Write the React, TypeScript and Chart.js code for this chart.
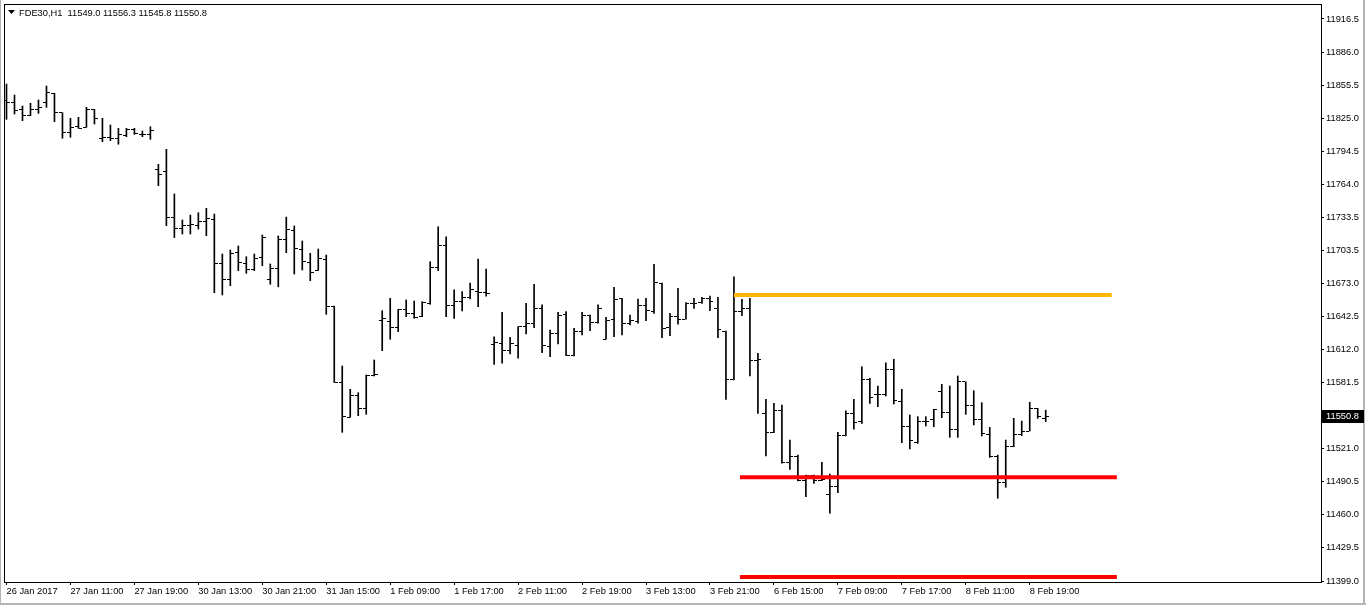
import React, { useEffect, useRef } from 'react';
import { Chart, registerables } from 'chart.js';

Chart.register(...registerables);

const symbolTitle = 'FDE30,H1';

const opens = [
  11841.9, 11839.8, 11833.3, 11828.1, 11833.6, 11839.8, 11848.1, 11830.2, 11811.8, 11817.3,
  11816.8, 11833.3, 11806.7, 11807.2, 11806.7, 11808.8, 11814.3, 11810.6, 11809.7, 11778.1,
  11776.5, 11733.3, 11723.8, 11725.9, 11726.8, 11729.6, 11732.1, 11690.9, 11676.8, 11701.7,
  11691.5, 11686.0, 11697.1, 11676.8, 11686.3, 11713.0, 11722.2, 11704.4, 11692.5, 11685.3,
  11695.5, 11652.2, 11582.0, 11549.8, 11569.4, 11558.0, 11587.8, 11639.3, 11638.4, 11632.6,
  11648.6, 11645.5, 11642.4, 11654.7, 11687.9, 11707.5, 11652.5, 11656.2, 11660.2, 11666.0,
  11664.5, 11616.9, 11617.9, 11611.7, 11616.3, 11633.8, 11635.7, 11649.5, 11614.8, 11627.1,
  11644.6, 11607.1, 11629.2, 11643.3, 11636.8, 11621.6, 11640.0, 11658.7, 11636.3, 11637.8,
  11652.5, 11647.0, 11673.3, 11632.3, 11643.0, 11640.0, 11654.7, 11655.7, 11659.3, 11650.1,
  11629.2, 11584.1, 11647.0, 11650.1, 11602.5, 11553.4, 11535.9, 11555.6, 11508.3, 11514.1,
  11491.4, 11495.7, 11492.0, 11479.1, 11485.9, 11532.8, 11552.8, 11545.7, 11584.7, 11570.3,
  11570.3, 11594.0, 11564.1, 11541.7, 11526.4, 11546.3, 11547.3, 11573.3, 11554.3, 11538.9,
  11582.5, 11560.2, 11547.9, 11533.5, 11514.1, 11489.9, 11522.7, 11534.1, 11537.1, 11558.0,
  11549.0,
];

const highs = [
  11856.6, 11846.5, 11836.4, 11838.9, 11841.9, 11854.8, 11848.1, 11830.2, 11825.1, 11826.0,
  11835.2, 11833.3, 11825.1, 11818.9, 11815.9, 11815.9, 11815.9, 11813.4, 11817.3, 11782.7,
  11796.5, 11755.4, 11731.4, 11736.0, 11738.1, 11742.2, 11736.9, 11700.1, 11703.8, 11707.5,
  11697.6, 11700.1, 11717.6, 11690.9, 11716.7, 11734.1, 11725.9, 11712.1, 11700.8, 11704.7,
  11699.2, 11652.2, 11597.0, 11575.5, 11572.4, 11588.7, 11602.5, 11647.9, 11659.3, 11649.2,
  11657.8, 11656.8, 11656.2, 11693.0, 11725.2, 11716.0, 11667.0, 11665.4, 11673.3, 11695.5,
  11686.3, 11623.9, 11646.4, 11623.4, 11633.2, 11654.7, 11672.2, 11653.2, 11630.1, 11646.4,
  11647.0, 11631.7, 11646.4, 11643.9, 11653.2, 11641.8, 11669.5, 11659.3, 11643.9, 11658.7,
  11659.3, 11690.6, 11673.3, 11645.5, 11668.5, 11655.3, 11659.3, 11660.2, 11661.4, 11660.2,
  11629.2, 11679.2, 11658.4, 11659.3, 11608.7, 11566.3, 11562.6, 11561.1, 11528.8, 11515.0,
  11496.6, 11496.6, 11508.3, 11497.5, 11535.9, 11555.8, 11566.3, 11596.3, 11585.7, 11578.6,
  11600.0, 11603.2, 11575.5, 11551.9, 11550.3, 11550.3, 11557.1, 11580.1, 11578.6, 11587.8,
  11582.5, 11574.2, 11563.2, 11540.5, 11515.0, 11528.8, 11548.8, 11546.3, 11563.6, 11558.0,
  11556.3,
];

const lows = [
  11824.1, 11829.0, 11822.9, 11827.4, 11829.6, 11835.2, 11821.9, 11806.7, 11807.6, 11815.9,
  11816.8, 11819.8, 11803.5, 11804.4, 11801.2, 11808.1, 11810.3, 11808.1, 11805.7, 11763.0,
  11726.2, 11715.3, 11718.5, 11718.5, 11723.1, 11717.0, 11664.5, 11662.4, 11670.9, 11684.8,
  11682.3, 11684.8, 11689.3, 11672.2, 11669.9, 11701.3, 11681.7, 11685.4, 11675.5, 11685.0,
  11644.6, 11581.8, 11535.9, 11549.8, 11551.2, 11552.5, 11587.8, 11611.1, 11621.6, 11628.6,
  11642.4, 11640.9, 11642.4, 11653.8, 11684.8, 11642.4, 11640.9, 11647.6, 11658.7, 11651.6,
  11661.2, 11598.5, 11599.5, 11608.0, 11604.1, 11626.5, 11632.3, 11609.2, 11605.6, 11617.2,
  11606.5, 11606.2, 11625.5, 11629.5, 11636.3, 11621.6, 11623.9, 11625.5, 11634.7, 11636.3,
  11638.7, 11645.5, 11623.0, 11624.9, 11635.4, 11640.0, 11650.1, 11654.7, 11647.9, 11623.0,
  11566.3, 11584.1, 11643.3, 11587.8, 11553.4, 11514.2, 11535.6, 11507.4, 11501.8, 11491.1,
  11476.6, 11488.9, 11491.4, 11461.4, 11480.3, 11532.5, 11538.7, 11544.2, 11562.6, 11559.5,
  11569.4, 11562.0, 11526.4, 11520.6, 11525.8, 11541.7, 11541.1, 11549.4, 11531.3, 11531.3,
  11552.5, 11542.7, 11532.5, 11512.9, 11475.2, 11485.3, 11522.7, 11532.8, 11537.1, 11548.8,
  11545.8,
];

const closes = [
  11839.8, 11832.7, 11828.1, 11833.3, 11835.2, 11849.0, 11830.2, 11811.8, 11816.8, 11815.9,
  11833.3, 11825.1, 11807.2, 11806.7, 11809.7, 11814.9, 11811.3, 11809.7, 11813.4, 11772.9,
  11733.3, 11723.8, 11725.9, 11727.5, 11729.6, 11733.0, 11691.5, 11676.8, 11700.8, 11692.5,
  11685.4, 11696.1, 11715.5, 11686.3, 11713.9, 11722.9, 11705.4, 11693.0, 11683.3, 11696.1,
  11652.2, 11582.0, 11550.3, 11569.4, 11558.0, 11587.8, 11588.7, 11640.9, 11632.6, 11648.6,
  11645.5, 11641.4, 11655.7, 11687.9, 11707.5, 11652.5, 11656.2, 11660.2, 11667.6, 11664.5,
  11663.9, 11618.8, 11611.7, 11617.9, 11633.2, 11636.3, 11650.1, 11615.4, 11627.1, 11643.3,
  11607.1, 11628.6, 11643.3, 11636.8, 11650.1, 11639.3, 11658.4, 11636.3, 11638.7, 11652.5,
  11647.9, 11674.1, 11631.7, 11642.4, 11640.0, 11654.7, 11654.7, 11659.3, 11656.2, 11630.8,
  11584.7, 11647.0, 11650.1, 11602.5, 11603.2, 11535.9, 11555.6, 11507.9, 11514.1, 11492.0,
  11496.0, 11492.0, 11492.9, 11485.9, 11532.8, 11552.8, 11545.1, 11584.7, 11568.2, 11570.3,
  11594.0, 11565.0, 11541.7, 11528.2, 11546.3, 11546.3, 11557.1, 11554.3, 11538.9, 11582.5,
  11560.2, 11547.9, 11535.0, 11514.1, 11489.9, 11522.7, 11533.5, 11537.1, 11558.0, 11550.3,
  11550.8,
];

const timeLabels = [
  '26 Jan 2017', '27 Jan 11:00', '27 Jan 19:00', '30 Jan 13:00', '30 Jan 21:00', '31 Jan 15:00',
  '1 Feb 09:00', '1 Feb 17:00', '2 Feb 11:00', '2 Feb 19:00', '3 Feb 13:00', '3 Feb 21:00',
  '6 Feb 15:00', '7 Feb 09:00', '7 Feb 17:00', '8 Feb 11:00', '8 Feb 19:00',
];
const timeLabelStep = 8;

const priceTicks = [
  11399.0, 11429.5, 11460.0, 11490.5, 11521.0, 11581.5, 11612.0, 11642.5, 11673.0,
  11703.5, 11733.5, 11764.0, 11794.5, 11825.0, 11855.5, 11886.0, 11916.5,
];

// horizontal levels: price, start bar, end bar
const levelPrices = [11662.4, 11494.5, 11402.7];
const levelStartBars = [91.0, 91.75, 91.75];
const levelEndBars = [138.25, 138.9, 138.9];
const levelColors = ['#ffb400', '#ff0000', '#ff0000'];

const W = 1366;
const H = 605;
const FONT = 'Liberation Sans';

function makeTickImage(side: 'open' | 'close') {
  const c = document.createElement('canvas');
  c.width = 7;
  c.height = 1;
  const g = c.getContext('2d')!;
  g.fillStyle = '#000';
  if (side === 'open') g.fillRect(0, 0, 3, 1);
  else g.fillRect(4, 0, 3, 1);
  return c;
}

export default function App() {
  const ref = useRef<HTMLCanvasElement | null>(null);

  useEffect(() => {
    document.body.style.margin = '0';
    const canvas = ref.current!;
    const openImg = makeTickImage('open');
    const closeImg = makeTickImage('close');
    const last = closes.length - 1;

    const decor = {
      id: 'decor',
      beforeDraw(chart: any) {
        const ctx = chart.ctx;
        ctx.save();
        ctx.fillStyle = '#ffffff';
        ctx.fillRect(0, 0, chart.width, chart.height);
        ctx.restore();
      },
      beforeDatasetsDraw(chart: any) {
        chart.ctx.imageSmoothingEnabled = false;
      },
      afterDraw(chart: any) {
        const ctx = chart.ctx;
        const a = chart.chartArea;
        ctx.save();
        // window edges
        ctx.fillStyle = '#b4b4b4';
        ctx.fillRect(0, 0, 1, chart.height);
        ctx.fillRect(chart.width - 3, 0, 2, chart.height);
        ctx.fillRect(0, chart.height - 2, chart.width, 2);
        // frame
        ctx.strokeStyle = '#000';
        ctx.lineWidth = 1;
        ctx.strokeRect(a.left - 0.5, a.top - 0.5, a.right - a.left + 1, a.bottom - a.top + 1);
        // header
        ctx.fillStyle = '#000';
        ctx.beginPath();
        ctx.moveTo(8, 10);
        ctx.lineTo(15, 10);
        ctx.lineTo(11.5, 14);
        ctx.closePath();
        ctx.fill();
        ctx.font = `9.3px "${FONT}"`;
        ctx.textBaseline = 'middle';
        ctx.textAlign = 'left';
        const header = `${symbolTitle}  ${opens[last].toFixed(1)} ${highs[last].toFixed(1)} ${lows[last].toFixed(1)} ${closes[last].toFixed(1)}`;
        ctx.fillText(header, 19, 13);
        // current price box
        const yScale = chart.scales.y;
        const py = Math.round(yScale.getPixelForValue(closes[last]));
        ctx.fillStyle = '#000';
        ctx.fillRect(a.right + 1, py - 6, 42, 13);
        ctx.fillStyle = '#fff';
        ctx.fillText(closes[last].toFixed(1), a.right + 5, py + 0.5);
        ctx.restore();
      },
    };

    const datasets: any[] = [
      ...levelPrices.map((p, k) => ({
        type: 'line',
        data: [
          { x: levelStartBars[k], y: p },
          { x: levelEndBars[k], y: p },
        ],
        borderColor: levelColors[k],
        borderWidth: 4,
        borderCapStyle: 'butt',
        pointRadius: 0,
        fill: false,
        order: 0,
      })),
      {
        type: 'bar',
        data: highs.map((h, i) => ({ x: i, y: [lows[i], h] })),
        backgroundColor: '#000',
        borderWidth: 0,
        barThickness: 1,
        grouped: false,
        order: 2,
      },
      {
        type: 'scatter',
        data: opens.map((v, i) => ({ x: i, y: v })),
        pointStyle: openImg,
        pointRadius: 3,
        order: 1,
      },
      {
        type: 'scatter',
        data: closes.map((v, i) => ({ x: i, y: v })),
        pointStyle: closeImg,
        pointRadius: 3,
        order: 1,
      },
    ];

    const chart = new Chart(canvas, {
      type: 'bar',
      data: { datasets },
      options: {
        animation: false,
        responsive: false,
        devicePixelRatio: 1,
        events: [],
        layout: { padding: { left: 4, top: 5, right: 0, bottom: 0 } },
        plugins: { legend: { display: false }, tooltip: { enabled: false } },
        scales: {
          x: {
            type: 'linear',
            position: 'bottom',
            min: -0.1875,
            max: 164.4375,
            offset: false,
            border: { display: false },
            grid: {
              offset: false,
              drawOnChartArea: false,
              drawTicks: true,
              tickLength: 3,
              color: '#000',
            },
            ticks: {
              autoSkip: false,
              maxRotation: 0,
              minRotation: 0,
              align: 'start',
              padding: 1,
              color: '#000',
              font: { family: FONT, size: 9.3 },
              callback: (v: any) => {
                const k = Math.round(Number(v) / timeLabelStep);
                return timeLabels[k] ?? '';
              },
            },
            afterBuildTicks: (scale: any) => {
              scale.ticks = timeLabels.map((_, k) => ({ value: k * timeLabelStep }));
            },
            afterFit: (scale: any) => {
              scale.height = 23;
              scale.paddingLeft = 0;
              scale.paddingRight = 0;
            },
          } as any,
          y: {
            type: 'linear',
            position: 'right',
            min: 11398.08,
            max: 11929.39,
            border: { display: false },
            grid: {
              drawOnChartArea: false,
              drawTicks: true,
              tickLength: 3,
              color: '#000',
            },
            ticks: {
              padding: 2,
              color: '#000',
              font: { family: FONT, size: 9.3 },
              callback: (v: any) => Number(v).toFixed(1),
            },
            afterBuildTicks: (scale: any) => {
              scale.ticks = priceTicks.map((p) => ({ value: p }));
            },
            afterFit: (scale: any) => {
              scale.width = 45;
              scale.paddingTop = 0;
              scale.paddingBottom = 0;
            },
          } as any,
        },
      },
      plugins: [decor],
    });

    return () => chart.destroy();
  }, []);

  return (
    <div style={{ width: W, height: H, background: '#fff' }}>
      <canvas ref={ref} width={W} height={H} style={{ width: W, height: H, display: 'block' }} />
    </div>
  );
}
